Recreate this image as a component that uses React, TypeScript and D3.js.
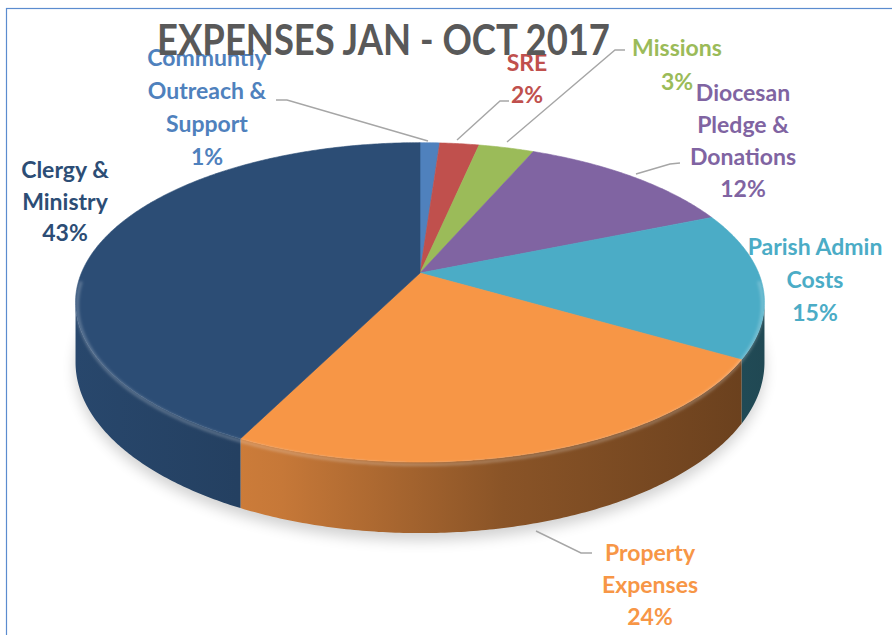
import React from 'react';
import * as d3 from 'd3';

// chart data
const categories = [
  'Communtiy Outreach & Support',
  'SRE',
  'Missions',
  'Diocesan Pledge & Donations',
  'Parish Admin Costs',
  'Property Expenses',
  'Clergy & Ministry',
];
const values = [1.1, 2.2, 3.1, 12.3, 14.8, 23.8, 42.7];
const colors = ['#4f81bd', '#c0504d', '#9bbb59', '#8064a2', '#4bacc6', '#f79646', '#2c4d75'];
const labelText = [
  ['Communtiy', 'Outreach &', 'Support'],
  ['SRE'],
  ['Missions'],
  ['Diocesan', 'Pledge &', 'Donations'],
  ['Parish Admin', 'Costs'],
  ['Property', 'Expenses'],
  ['Clergy &', 'Ministry'],
];
const title = 'EXPENSES JAN - OCT 2017';

// label layout: centre x, first line centre y, line height
const labelPos = [
  { x: 207, y: 58, lh: 33 },
  { x: 527, y: 63, lh: 32 },
  { x: 677, y: 48, lh: 34 },
  { x: 743, y: 93, lh: 32 },
  { x: 815, y: 247, lh: 33 },
  { x: 650, y: 553, lh: 32 },
  { x: 65, y: 170, lh: 31.5 },
];
// leader lines (label end -> slice)
const leaders: ([number, number][] | null)[] = [
  [[276, 100], [287, 100], [428, 141]],
  [[509, 101], [500, 101], [457, 140]],
  [[625, 50], [615, 50], [507, 142]],
  [[680, 163], [670, 164], [636, 174]],
  null,
  [[592, 553], [581, 553], [536, 531]],
  null,
];

const W = 892;
const H = 635;

// projection of the tilted disc (perspective)
const cx = 420;
const cy = 273;
const A = 338.6;
const B = 154.3;
const K = 0.1838;
const DEPTH = 58;

const proj = (a: number, r = 1, dz = 0): [number, number] => {
  const u = r * Math.sin(a);
  const v = -r * Math.cos(a);
  const w = 1 / (1 - K * v);
  return [cx + A * u * w, cy + B * v * w + dz * w];
};

const sample = (a0: number, a1: number) => {
  const n = Math.max(2, Math.ceil((a1 - a0) / 0.01));
  return d3.range(n + 1).map((i) => a0 + ((a1 - a0) * i) / n);
};

const line = d3.line<[number, number]>();

const shade = (c: string, f: number) => {
  const rgb = d3.rgb(c);
  return d3.rgb(rgb.r * f, rgb.g * f, rgb.b * f).formatHex();
};

const frontStart = Math.acos(-K);
const frontEnd = 2 * Math.PI - frontStart;

const App: React.FC = () => {
  const pie = d3.pie<number>().sort(null).startAngle(0).endAngle(2 * Math.PI);
  const arcs = pie(values);
  const total = d3.sum(values);
  const fmt = (v: number) => `${Math.round((v / total) * 100)}%`;
  const font = "Lato, 'Open Sans', sans-serif";

  const shadowPts = sample(0, 2 * Math.PI).map((a) => proj(a, 1.0, DEPTH + 6));

  return (
    <svg
      width={W}
      height={H}
      style={{ position: 'absolute', left: 0, top: 0, background: '#fff' }}
    >
      <defs>
        <filter id="blur" x="-20%" y="-20%" width="140%" height="140%">
          <feGaussianBlur stdDeviation="7" />
        </filter>
        <filter id="soft" x="-5%" y="-5%" width="110%" height="110%">
          <feGaussianBlur stdDeviation="1.5" />
        </filter>
        {arcs.map((d, i) => (
          <linearGradient
            key={i}
            id={`side${i}`}
            gradientUnits="userSpaceOnUse"
            x1={cx - A * 1.02}
            x2={cx + A * 1.02}
            y1={0}
            y2={0}
          >
            <stop offset="0" stopColor={shade(colors[i], 0.92)} />
            <stop offset="0.3" stopColor={shade(colors[i], 0.8)} />
            <stop offset="0.62" stopColor={shade(colors[i], 0.56)} />
            <stop offset="1" stopColor={shade(colors[i], 0.42)} />
          </linearGradient>
        ))}
      </defs>

      <rect x={6.5} y={8.5} width={W} height={H} fill="#fff" stroke="#5b8ccf" strokeWidth={1.2} />

      {/* shadow */}
      <path d={line(shadowPts)! + 'Z'} fill="#000" opacity={0.18} filter="url(#blur)" />

      {/* side walls */}
      {arcs.map((d, i) => {
        const a0 = Math.max(d.startAngle, frontStart);
        const a1 = Math.min(d.endAngle, frontEnd);
        if (a1 <= a0) return null;
        const angs = sample(a0, a1);
        const top = angs.map((a) => proj(a));
        const bot = angs.map((a) => proj(a, 1, DEPTH)).reverse();
        return (
          <path key={i} d={line([...top, ...bot])! + 'Z'} fill={`url(#side${i})`} />
        );
      })}

      {/* top faces */}
      {arcs.map((d, i) => {
        const pts = [[cx, cy] as [number, number], ...sample(d.startAngle, d.endAngle).map((a) => proj(a))];
        return (
          <path
            key={i}
            d={line(pts)! + 'Z'}
            fill={colors[i]}
            stroke={colors[i]}
            strokeWidth={0.6}
            strokeLinejoin="round"
          />
        );
      })}

      {/* rim highlight */}
      <path
        d={line(sample(frontStart - 0.15, frontEnd + 0.15).map((a) => proj(a, 0.995, 3)))!}
        fill="none"
        stroke="#fff"
        strokeOpacity={0.26}
        strokeWidth={3}
        filter="url(#soft)"
      />

      {/* leader lines */}
      {leaders.map((l, i) =>
        l ? <path key={i} d={line(l)!} fill="none" stroke="#a6a6a6" strokeWidth={1.4} /> : null
      )}

      {/* labels */}
      {arcs.map((d, i) => {
        const p = labelPos[i];
        const lines = [...labelText[i], fmt(d.value)];
        return (
          <text
            key={i}
            fill={colors[i]}
            fontFamily={font}
            fontWeight={700}
            fontSize={23}
            textAnchor="middle"
          >
            {lines.map((t, j) => (
              <tspan key={j} x={p.x} y={p.y + j * p.lh + 8}>
                {t}
              </tspan>
            ))}
          </text>
        );
      })}

      <text
        x={383.5}
        y={55}
        fill="#595959"
        fontFamily={font}
        fontWeight={700}
        fontSize={42}
        textAnchor="middle"
        textLength={453}
        lengthAdjust="spacingAndGlyphs"
      >
        {title}
      </text>
    </svg>
  );
};

export default App;
